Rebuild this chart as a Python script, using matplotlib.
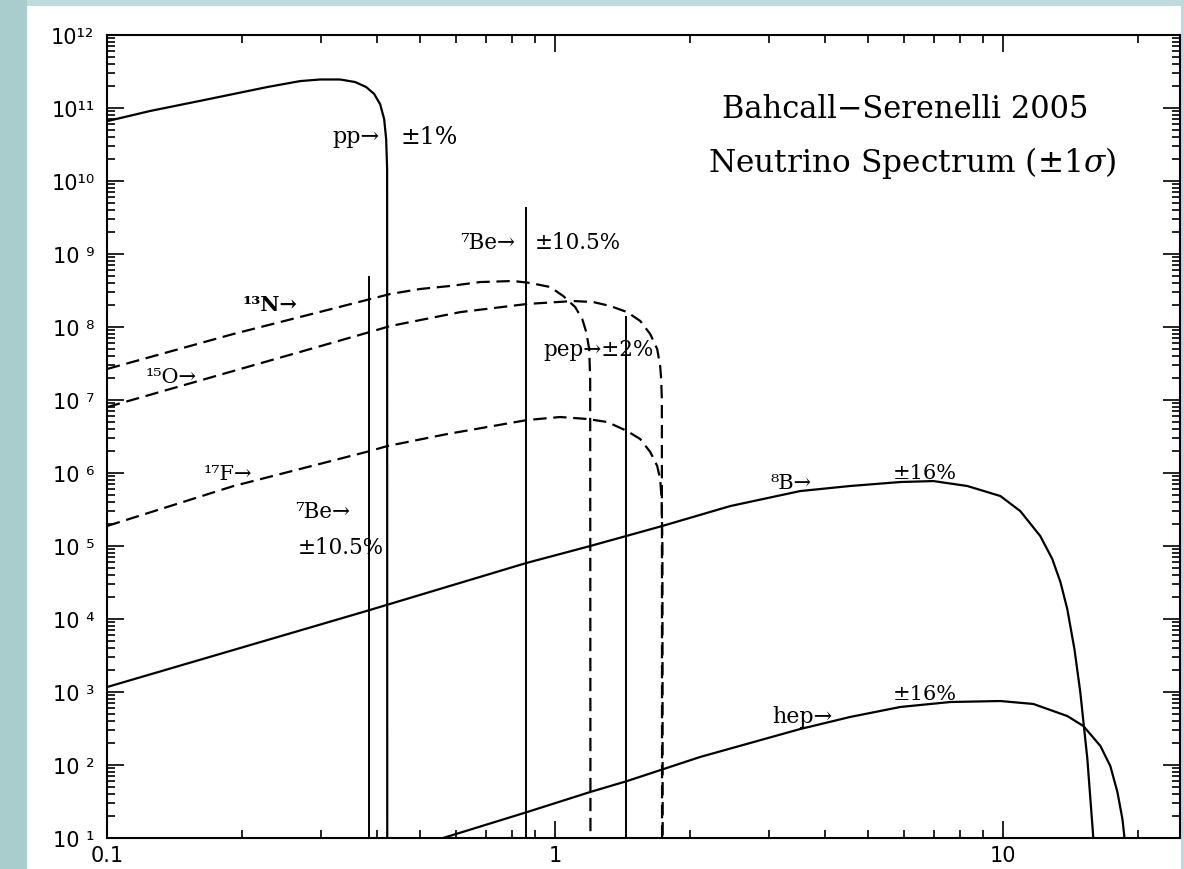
import matplotlib.pyplot as plt
from matplotlib.patches import Rectangle
from matplotlib.ticker import FixedLocator, FixedFormatter, LogLocator, NullFormatter

plt.rcParams['mathtext.fontset'] = 'dejavuserif'

# ---- spectra (E in MeV, flux) ----
pp_e = [0.100, 0.1247, 0.161, 0.228, 0.270, 0.299, 0.331, 0.3577, 0.3786, 0.3945,
        0.4068, 0.4153, 0.4196, 0.4217, 0.4220]
pp_flux = [6.6e10, 9.1e10, 1.25e11, 1.94e11, 2.34e11, 2.46e11, 2.46e11, 2.27e11, 1.94e11, 1.56e11,
           1.13e11, 7.06e10, 3.76e10, 1.46e10, 1.0]

n13_e = [0.100, 0.191, 0.428, 0.500, 0.583, 0.680, 0.806, 0.880, 0.975, 1.042, 1.108,
         1.149, 1.173, 1.191, 1.197, 1.199]
n13_flux = [2.66e7, 8.0e7, 2.83e8, 3.32e8, 3.65e8, 4.13e8, 4.27e8, 4.01e8, 3.53e8, 2.66e8, 1.88e8,
            1.29e8, 8.55e7, 5.0e7, 1.94e7, 1.0]

o15_e = [0.100, 0.191, 0.386, 0.428, 0.614, 0.866, 1.097, 1.216, 1.327, 1.448, 1.548,
         1.630, 1.689, 1.715, 1.724, 1.730, 1.732]
o15_flux = [8.0e6, 2.49e7, 8.55e7, 1.03e8, 1.60e8, 2.07e8, 2.27e8, 2.20e8, 1.94e8, 1.60e8, 1.21e8,
            8.0e7, 5.0e7, 2.92e7, 1.94e7, 1.0e7, 1.0]

f17_e = [0.100, 0.191, 0.386, 0.422, 0.574, 0.866, 1.026, 1.179, 1.306, 1.448, 1.548,
         1.630, 1.689, 1.715, 1.728, 1.735, 1.738]
f17_flux = [1.88e5, 6.6e5, 2.0e6, 2.34e6, 3.42e6, 5.32e6, 5.85e6, 5.5e6, 5.0e6, 3.76e6, 2.92e6,
            1.94e6, 1.25e6, 8.3e5, 4.4e5, 1.0e5, 1.0]

b8_e = [0.100, 0.386, 0.862, 1.197, 1.733, 2.46, 3.52, 4.55, 5.89, 6.98, 8.31, 9.85, 10.91,
        12.09, 12.86, 13.41, 13.89, 14.41, 14.85, 15.40, 15.88, 16.0]
b8_flux = [1.17e3, 1.33e4, 5.85e4, 1.0e5, 1.88e5, 3.53e5, 5.66e5, 6.64e5, 7.53e5, 7.76e5, 6.64e5,
           4.84e5, 3.01e5, 1.37e5, 6.64e4, 3.21e4, 1.37e4, 3.88e3, 1.0e3, 121, 10, 1.0]

hep_e = [0.562, 0.866, 1.197, 1.448, 2.107, 3.52, 4.55, 5.89, 7.62, 9.85, 11.67, 13.89,
         15.09, 16.47, 17.33, 17.97, 18.44, 18.62, 18.7]
hep_flux = [10, 22.7, 42.7, 60.4, 129, 311, 455, 624, 730, 753, 686, 469,
            342, 182, 96.8, 42.7, 18.2, 10.6, 1.0]

# line sources: energy, height
line_e = [0.384, 0.862, 1.442]
line_flux = [5.0e8, 4.4e9, 1.4e8]

ytick_vals = [1e1, 1e2, 1e3, 1e4, 1e5, 1e6, 1e7, 1e8, 1e9, 1e10, 1e11, 1e12]
ytick_labels = ['10 ¹', '10 ²', '10 ³', '10 ⁴', '10 ⁵', '10 ⁶', '10 ⁷', '10 ⁸', '10 ⁹',
                '10¹⁰', '10¹¹', '10¹²']
xtick_vals = [0.1, 1, 10]
xtick_labels = ['0.1', '1', '10']

fig = plt.figure(figsize=(11.84, 8.70), dpi=100)
fig.patch.set_facecolor('#bfdada')
fig.patches.append(Rectangle((0, 0), 0.0228, 1, transform=fig.transFigure,
                             facecolor='#a9cccc', edgecolor='none', zorder=-2))
fig.patches.append(Rectangle((0.0228, 0), 0.975, 0.992, transform=fig.transFigure,
                             facecolor='white', edgecolor='none', zorder=-1))

ax = fig.add_axes([0.0904, 0.0356, 0.9063, 0.9230])
ax.set_facecolor('none')
ax.set_xscale('log')
ax.set_yscale('log')
ax.set_xlim(0.1, 24.8)
ax.set_ylim(10, 1e12)

lw = 1.6
ax.plot(pp_e, pp_flux, color='black', lw=lw)
ax.plot(b8_e, b8_flux, color='black', lw=lw)
ax.plot(hep_e, hep_flux, color='black', lw=lw)
for e_, f_ in [(n13_e, n13_flux), (o15_e, o15_flux), (f17_e, f17_flux)]:
    ax.plot(e_, f_, color='black', lw=lw, dashes=(6, 3))
ax.vlines(line_e, 1.0, line_flux, color='black', lw=1.4)

for s in ax.spines.values():
    s.set_linewidth(1.5)

ax.xaxis.set_major_locator(FixedLocator(xtick_vals))
ax.xaxis.set_major_formatter(FixedFormatter(xtick_labels))
ax.xaxis.set_minor_locator(LogLocator(base=10, subs=range(2, 10), numticks=20))
ax.xaxis.set_minor_formatter(NullFormatter())
ax.yaxis.set_major_locator(FixedLocator(ytick_vals))
ax.yaxis.set_major_formatter(FixedFormatter(ytick_labels))
ax.yaxis.set_minor_locator(LogLocator(base=10, subs=range(2, 10), numticks=20))
ax.yaxis.set_minor_formatter(NullFormatter())

ax.tick_params(which='both', direction='in', top=True, right=True, width=1.2)
ax.tick_params(which='major', length=12)
ax.tick_params(which='minor', length=6)
ax.tick_params(axis='y', which='major', pad=9)
ax.tick_params(axis='x', which='major', pad=5)
for lab in ax.get_xticklabels() + ax.get_yticklabels():
    lab.set_fontfamily('DejaVu Sans')
    lab.set_fontsize(15)

serif = 'DejaVu Serif'
txt = dict(family=serif, ha='left', va='center', color='black')
ax.text(0.318, 4.13e10, 'pp→', fontsize=16, **txt)
ax.text(0.451, 4.13e10, '±1%', fontsize=17, **txt)
ax.text(0.614, 1.46e9, '⁷Be→', fontsize=15.5, **txt)
ax.text(0.902, 1.46e9, '±10.5%', fontsize=15.5, **txt)
ax.text(0.201, 2.07e8, '¹³N→', fontsize=15, fontweight='bold', **txt)
ax.text(0.1216, 2.13e7, '¹⁵O→', fontsize=15, **txt)
ax.text(0.1638, 9.7e5, '¹⁷F→', fontsize=15, **txt)
ax.text(0.263, 3.01e5, '⁷Be→', fontsize=15.5, **txt)
ax.text(0.266, 9.7e4, '±10.5%', fontsize=15.5, **txt)
ax.text(0.940, 5.0e7, 'pep→±2%', fontsize=15.5, **txt)
ax.text(3.02, 7.5e5, '⁸B→', fontsize=15, **txt)
ax.text(5.68, 1.03e6, '±16%', fontsize=15, **txt)
ax.text(3.05, 469, 'hep→', fontsize=16, **txt)
ax.text(5.68, 940, '±16%', fontsize=15, **txt)
ax.text(2.36, 9.7e10, 'Bahcall−Serenelli 2005', fontsize=22, **txt)
ax.text(2.195, 1.82e10, r'Neutrino Spectrum (±1$\sigma$)', fontsize=22.5, **txt)

fig.savefig('out.png', dpi=100, facecolor=fig.get_facecolor())
